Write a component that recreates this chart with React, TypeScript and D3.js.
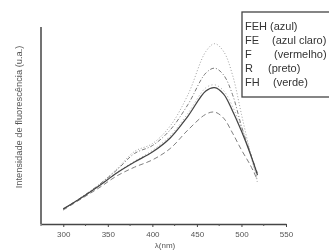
import React, { useEffect, useRef } from 'react';
import * as d3 from 'd3';

// wavelength samples (nm)
const wavelengths = [300, 320, 340, 360, 380, 400, 420, 440, 460, 470, 480, 490, 500, 510, 518];

// fluorescence intensity (u.a.) per sample
const feh = [7.5, 13.5, 20, 28, 37, 41, 50, 66, 88, 92, 88, 76, 56, 36, 21];
const fe = [7.5, 13.5, 20, 27.5, 36, 40, 48, 61, 77, 79.5, 76, 66, 50, 36, 26];
const f = [7.6, 13.4, 19.6, 26.3, 32, 37.5, 45, 56.5, 69.5, 71, 68, 60, 49, 37, 23];
const r = [7.7, 13.3, 19.4, 26, 31.6, 36.7, 43.9, 55.1, 67.9, 69.6, 66.3, 57.7, 47.4, 35.7, 25];
const fh = [7.1, 12.8, 18.4, 24.5, 29, 32.7, 38.5, 48, 56, 57.1, 54, 46.4, 37.8, 30, 22.4];

const legendKeys = ['FEH', 'FE', 'F', 'R', 'FH'];
const legendNames = ['(azul)', '(azul claro)', '(vermelho)', '(preto)', '(verde)'];
const xTicks = [300, 350, 400, 450, 500, 550];
const xMinorTicks = [275, 325, 375, 425, 475, 525];

const font = 'Liberation Sans, Arial, sans-serif';

const App = () => {
  const svgRef = useRef<SVGSVGElement | null>(null);

  useEffect(() => {
    if (!svgRef.current) return;
    const width = 329;
    const height = 250;

    const svg = d3.select(svgRef.current);
    svg.selectAll('*').remove();
    svg.attr('width', width).attr('height', height);

    // soft scan look
    svg.append('defs').append('filter')
      .attr('id', 'scan')
      .append('feGaussianBlur')
      .attr('stdDeviation', 0.35);

    const root = svg.append('g').attr('filter', 'url(#scan)');
    root.append('rect').attr('width', width).attr('height', height).attr('fill', '#fff');

    const x = d3.scaleLinear().domain([275, 550]).range([41, 286]);
    const y = d3.scaleLinear().domain([0, 100]).range([224, 28]);

    const series = [
      { values: feh, color: '#a0a0a0', dash: '1,2', w: 1 },
      { values: fe, color: '#7a7a7a', dash: '4,2,1,2', w: 1 },
      { values: f, color: '#a8a8a8', dash: '1,2.5', w: 1 },
      { values: fh, color: '#808080', dash: '5,3', w: 1 },
      { values: r, color: '#444', dash: null, w: 1.25 },
    ];

    const line = d3.line<number>()
      .x((_, i) => x(wavelengths[i]))
      .y(d => y(d))
      .curve(d3.curveCatmullRom);

    series.forEach(s => {
      root.append('path')
        .attr('d', line(s.values))
        .attr('fill', 'none')
        .attr('stroke', s.color)
        .attr('stroke-width', s.w)
        .attr('stroke-dasharray', s.dash);
    });

    // x axis
    const xAxis = root.append('g')
      .attr('transform', `translate(0,${y(0)})`)
      .call(d3.axisBottom(x).tickValues(xTicks).tickSize(3).tickSizeOuter(0).tickPadding(4));
    xAxis.select('.domain').attr('stroke', '#444').attr('stroke-width', 1.5);
    xAxis.selectAll('.tick line').attr('stroke', '#444');
    xAxis.selectAll('.tick text')
      .attr('fill', '#555')
      .attr('font-size', 8)
      .attr('font-family', font);

    root.append('g')
      .attr('transform', `translate(0,${y(0)})`)
      .selectAll('line')
      .data(xMinorTicks)
      .join('line')
      .attr('x1', d => x(d))
      .attr('x2', d => x(d))
      .attr('y1', 0)
      .attr('y2', 2)
      .attr('stroke', '#555');

    // y axis (no ticks)
    root.append('line')
      .attr('x1', 41).attr('x2', 41)
      .attr('y1', y(0)).attr('y2', 27)
      .attr('stroke', '#444')
      .attr('stroke-width', 1.5);

    root.append('text')
      .attr('transform', 'translate(22,117) rotate(-90)')
      .attr('text-anchor', 'middle')
      .attr('font-size', 9.3)
      .attr('font-family', font)
      .attr('fill', '#555')
      .text('Intensidade de fluorescência (u.a.)');

    root.append('text')
      .attr('x', 165)
      .attr('y', 248)
      .attr('text-anchor', 'middle')
      .attr('font-size', 8)
      .attr('font-family', font)
      .attr('fill', '#555')
      .text('λ(nm)');

    // legend box, runs past the right edge
    const legend = root.append('g');
    legend.append('rect')
      .attr('x', 242).attr('y', 12)
      .attr('width', 100).attr('height', 85)
      .attr('fill', '#fff')
      .attr('stroke', '#444')
      .attr('stroke-width', 1.3);

    const nameX = [270, 272, 274, 268, 273];
    legendKeys.forEach((k, i) => {
      const ty = 30 + i * 14;
      legend.append('text')
        .attr('x', 245).attr('y', ty)
        .attr('font-size', 11)
        .attr('font-family', font)
        .attr('fill', '#333')
        .text(k);
      legend.append('text')
        .attr('x', nameX[i]).attr('y', ty)
        .attr('font-size', 11)
        .attr('font-family', font)
        .attr('fill', '#333')
        .text(legendNames[i]);
    });
  }, []);

  return (
    <div style={{ position: 'absolute', left: 0, top: 0, width: 329, height: 250, overflow: 'hidden', background: '#fff' }}>
      <svg ref={svgRef} style={{ display: 'block' }}></svg>
    </div>
  );
};

export default App;
